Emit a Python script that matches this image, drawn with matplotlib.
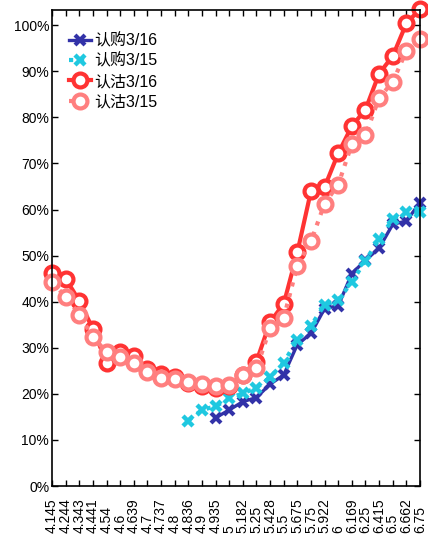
import numpy as np
import matplotlib
matplotlib.use("Agg")
import matplotlib.pyplot as plt
from matplotlib.ticker import FuncFormatter

plt.rcParams['font.family'] = ['Liberation Sans', 'Noto Sans CJK SC', 'DejaVu Sans']

strikes = ["4.145", "4.244", "4.343", "4.441", "4.54", "4.6", "4.639", "4.7",
           "4.737", "4.8", "4.836", "4.9", "4.935", "5", "5.182", "5.25",
           "5.428", "5.5", "5.675", "5.75", "5.922", "6", "6.169", "6.25",
           "6.415", "6.5", "6.662", "6.75"]

nan = np.nan
call_0316 = [nan, nan, nan, nan, nan, nan, nan, nan, nan, nan, nan, nan,
             14.8, 16.5, 18.3, 19.2, 22.1, 24.1, 30.7, 33.1, 38.5, 39.1,
             46.1, 49.0, 51.6, 56.8, 57.5, 61.5]
call_0315 = [nan, nan, nan, nan, nan, nan, nan, nan, nan, nan,
             14.2, 16.5, 17.3, 19.0, 20.1, 21.3, 23.6, 26.8, 31.7, 34.8,
             39.3, 40.3, 44.3, 48.9, 53.6, 57.9, 59.5, 59.4]
put_0316 = [46.3, 45.0, 40.2, 34.1, 26.8, 29.1, 28.2, 25.4, 24.2, 23.6,
            22.3, 21.8, 21.3, 21.6, 24.0, 27.0, 35.6, 39.5, 50.7, 64.0,
            64.9, 72.2, 78.1, 81.7, 89.5, 93.3, 100.4, 103.5]
put_0315 = [44.2, 41.1, 37.2, 32.3, 29.1, 28.0, 26.6, 24.7, 23.5, 23.3,
            22.6, 22.1, 21.8, 21.9, 24.1, 25.5, 34.2, 36.5, 47.8, 53.1,
            61.3, 65.4, 74.2, 76.1, 84.2, 87.7, 94.4, 96.9]

labels = ["认购3/16", "认购3/15", "认沽3/16", "认沽3/15"]

fig = plt.figure(figsize=(4.28, 5.35), dpi=100)
ax = fig.add_axes([52/428, 1-486/535, (420-52)/428, (486-10)/535])

x = np.arange(len(strikes))
y1 = np.array(call_0316) / 100
y2 = np.array(call_0315) / 100
y3 = np.array(put_0316) / 100
y4 = np.array(put_0315) / 100

ax.plot(x, y1, color='#3232A8', lw=2.4, ls='-', marker='x', ms=7, mew=3,
        label=labels[0], clip_on=False)
ax.plot(x, y2, color='#1FC8E0', lw=3, ls=':', marker='x', ms=7, mew=3.2,
        label=labels[1], clip_on=False)
ax.plot(x, y3, color='#FF3333', lw=3, ls='-', marker='o', ms=10, mew=3,
        mfc='white', mec='#FF3333', label=labels[2], clip_on=False)
ax.plot(x, y4, color='#FF7F7F', lw=3, ls=':', marker='o', ms=10, mew=3,
        mfc='white', mec='#FF7F7F', label=labels[3], clip_on=False)

ax.set_xlim(0, len(strikes) - 1)
ax.set_ylim(0, 1.033)
ax.set_xticks(x)
ax.set_xticklabels(strikes, rotation=90, fontsize=10, va='bottom')
ax.set_yticks(np.arange(0, 1.01, 0.1))
ax.yaxis.set_major_formatter(FuncFormatter(lambda v, p: f"{v*100:.0f}%"))
ax.tick_params(axis='both', direction='in', top=True, right=True,
               length=4, width=1, labelsize=10)
ax.tick_params(axis='y', pad=2)
ax.tick_params(axis='x', pad=33.5)
for s in ax.spines.values():
    s.set_linewidth(1.2)

leg = ax.legend(loc='upper left', frameon=False, fontsize=11.5,
                handlelength=1.4, handletextpad=0.2, labelspacing=0.32,
                borderpad=0, borderaxespad=0, bbox_to_anchor=(0.046, 0.952))

fig.savefig("out.png", dpi=100)
